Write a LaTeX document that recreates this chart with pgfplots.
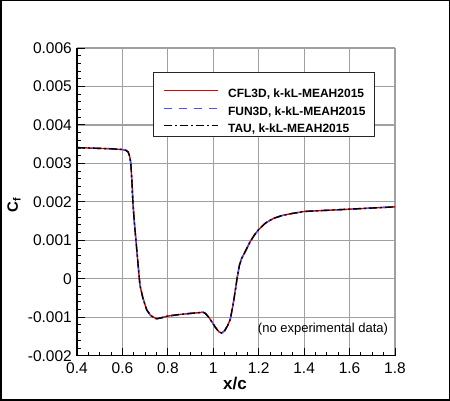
\documentclass[border=0pt]{standalone}
\usepackage{pgfplots}
\pgfplotsset{compat=1.18}
\usepackage{pgfplotstable}
\usepackage{fontspec}
\setmainfont{Liberation Sans}

\definecolor{cfl}{RGB}{220,0,0}
\definecolor{fun}{RGB}{80,80,255}
\definecolor{gridgray}{RGB}{160,160,160}

% skin friction, lower wall (all three codes lie on top of each other)
\pgfplotstableread{
x      cf
0.400  0.00341
0.450  0.00340
0.500  0.00339
0.550  0.00338
0.600  0.00336
0.615  0.00334
0.625  0.00330
0.632  0.00318
0.637  0.00300
0.642  0.00250
0.646  0.00200
0.652  0.00150
0.658  0.00110
0.664  0.00070
0.670  0.00030
0.677  -0.00016
0.690  -0.00050
0.707  -0.00081
0.725  -0.00096
0.750  -0.00104
0.775  -0.00101
0.800  -0.00097
0.850  -0.00093
0.900  -0.00090
0.940  -0.00088
0.955  -0.00087
0.965  -0.00090
0.980  -0.00100
0.995  -0.00113
1.010  -0.00127
1.025  -0.00138
1.037  -0.00141
1.050  -0.00135
1.063  -0.00122
1.075  -0.00105
1.088  -0.00064
1.097  -0.00030
1.105  0.00002
1.115  0.00035
1.125  0.00053
1.140  0.00070
1.162  0.00096
1.180  0.00113
1.200  0.00128
1.230  0.00145
1.265  0.00157
1.300  0.00164
1.340  0.00169
1.400  0.00175
1.500  0.00178
1.600  0.00181
1.700  0.00184
1.800  0.00187
}\cfdata

\begin{document}
\begin{tikzpicture}[x=1pt,y=1pt]
\path[use as bounding box] (0,0) rectangle (450,401);
\draw[line width=1.5pt] (0.75,0.75) rectangle (449.25,400.25);

\begin{axis}[
    at={(77pt,45.3pt)}, anchor=south west,
    scale only axis,
    width=318pt, height=307.7pt,
    xmin=0.4, xmax=1.8,
    ymin=-0.002, ymax=0.006,
    axis x line=bottom, axis y line=left,
    axis line style={-, line width=1.3pt},
    xtick={0.4,0.6,0.8,1,1.2,1.4,1.6,1.8},
    xticklabels={0.4,0.6,0.8,1,1.2,1.4,1.6,1.8},
    ytick={-0.002,-0.001,0,0.001,0.002,0.003,0.004,0.005,0.006},
    yticklabels={-0.002,-0.001,0,0.001,0.002,0.003,0.004,0.005,0.006},
    scaled y ticks=false,
    minor x tick num=3,
    minor y tick num=4,
    tick align=inside,
    major tick length=8pt,
    minor tick length=4pt,
    every tick/.style={black, line width=1pt},
    grid=major,
    major grid style={gridgray, line width=1.2pt},
    xticklabel style={font=\fontsize{15.5}{18}\selectfont, inner sep=0pt, yshift=-7pt},
    yticklabel style={font=\fontsize{15.5}{18}\selectfont, inner sep=0pt, xshift=-5pt},
    xlabel={\bfseries x/c},
    xlabel style={font=\fontsize{17}{20}\selectfont, at={(axis description cs:0.497,-0.089)}, anchor=center, inner sep=0pt},
    ylabel={\bfseries C\textsubscript{f}},
    ylabel style={font=\fontsize{15}{18}\selectfont, at={(axis description cs:-0.198,0.49)}, anchor=center, inner sep=0pt},
    legend style={
        at={(rel axis cs:0.2704,0.869)}, anchor=north west,
        draw=none, fill=none, inner sep=0pt,
        font=\fontsize{12}{14}\selectfont\bfseries,
        row sep=5.5pt,
        nodes={inner sep=0pt, text height=9pt, text depth=3pt},
    },
    legend cell align=left,
    legend image code/.code={
        \draw[#1, line width=1pt] (0pt,3.6pt) -- (54pt,3.6pt);
        \path (63.7pt,0pt);
    },
]
% legend frame, over the grid
\draw[black!85, line width=0.9pt, fill=white]
    (rel axis cs:0.2390,0.9195) rectangle (rel axis cs:0.9340,0.7115);

\addplot[cfl, line width=1.4pt] table[x=x, y=cf] {\cfdata};
\addlegendentry{CFL3D, k-kL-MEAH2015}
\addplot[fun, line width=1.4pt, dash pattern=on 8pt off 7pt] table[x=x, y=cf] {\cfdata};
\addlegendentry{FUN3D, k-kL-MEAH2015}
\addplot[black, line width=1.4pt, dash pattern=on 8pt off 3pt on 2pt off 3pt] table[x=x, y=cf] {\cfdata};
\addlegendentry{TAU, k-kL-MEAH2015}

\node[font=\fontsize{13}{15}\selectfont, inner sep=0pt] at (axis cs:1.483,-0.0013) {(no experimental data)};
\end{axis}
\end{tikzpicture}
\end{document}
